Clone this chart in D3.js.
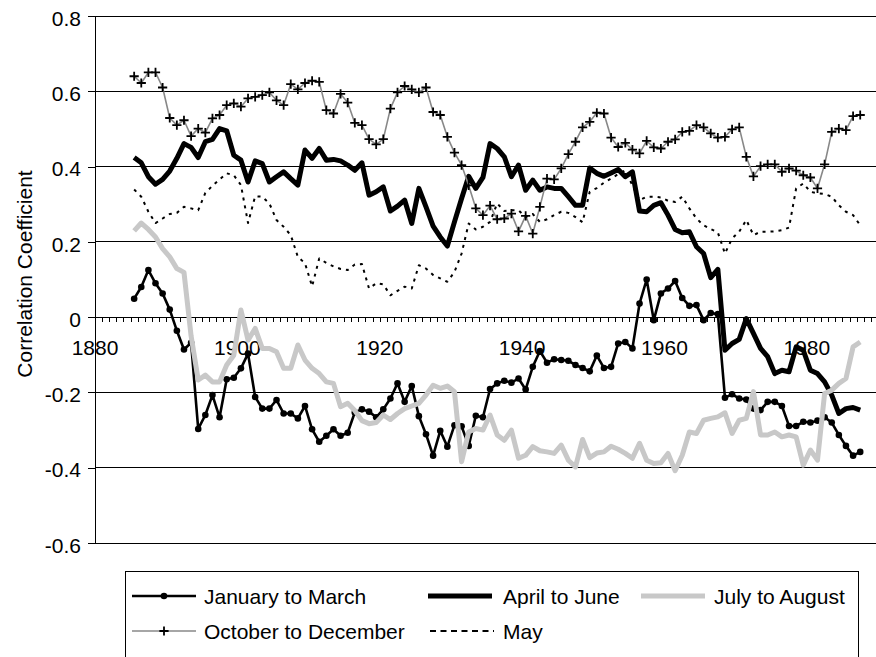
<!DOCTYPE html>
<html>
<head>
<meta charset="utf-8">
<script src="https://cdn.jsdelivr.net/npm/d3@7/dist/d3.min.js"></script>
<style>
  html, body { margin: 0; padding: 0; background: #fff; }
  svg { display: block; font-family: "Liberation Sans", Arial, sans-serif; }
</style>
</head>
<body>
<svg id="chart" width="876" height="657"></svg>
<script>
// Running correlation coefficients, centred on half years 1885.5 ... 1987.5
const years = d3.range(1885.5, 1988, 1);

const janMar = [
  0.049, 0.080, 0.125, 0.090, 0.063, 0.020, -0.036, -0.086, -0.068, -0.297,
  -0.260, -0.207, -0.266, -0.165, -0.161, -0.136, -0.097, -0.212, -0.243, -0.243,
  -0.220, -0.256, -0.256, -0.269, -0.236, -0.298, -0.331, -0.315, -0.298, -0.315,
  -0.307, -0.253, -0.245, -0.251, -0.266, -0.245, -0.216, -0.176, -0.225, -0.183,
  -0.263, -0.311, -0.368, -0.302, -0.344, -0.287, -0.290, -0.342, -0.262, -0.266,
  -0.191, -0.176, -0.169, -0.174, -0.163, -0.192, -0.132, -0.090, -0.121, -0.112,
  -0.114, -0.116, -0.127, -0.135, -0.144, -0.102, -0.135, -0.132, -0.070, -0.066,
  -0.083, 0.036, 0.100, -0.008, 0.063, 0.076, 0.096, 0.051, 0.030, 0.032,
  -0.008, 0.011, 0.008, -0.214, -0.205, -0.216, -0.219, -0.243, -0.247, -0.225,
  -0.225, -0.236, -0.289, -0.289, -0.278, -0.280, -0.275, -0.266, -0.280, -0.313,
  -0.342, -0.368, -0.358
];

const aprJun = [
  0.424, 0.410, 0.373, 0.353, 0.366, 0.388, 0.422, 0.461, 0.451, 0.424,
  0.466, 0.472, 0.501, 0.495, 0.430, 0.417, 0.359, 0.415, 0.408, 0.359,
  0.373, 0.386, 0.368, 0.351, 0.444, 0.422, 0.448, 0.417, 0.419, 0.415,
  0.404, 0.390, 0.410, 0.324, 0.333, 0.346, 0.282, 0.295, 0.311, 0.249,
  0.342, 0.293, 0.242, 0.213, 0.189, 0.253, 0.315, 0.374, 0.342, 0.371,
  0.461, 0.448, 0.426, 0.373, 0.404, 0.337, 0.364, 0.337, 0.346, 0.342,
  0.342, 0.320, 0.297, 0.297, 0.396, 0.382, 0.374, 0.383, 0.392, 0.373,
  0.386, 0.282, 0.280, 0.297, 0.304, 0.271, 0.233, 0.224, 0.227, 0.187,
  0.169, 0.105, 0.127, -0.088, -0.070, -0.059, -0.004, -0.043, -0.083, -0.105,
  -0.150, -0.141, -0.145, -0.079, -0.088, -0.141, -0.150, -0.172, -0.207, -0.256,
  -0.243, -0.240, -0.247
];

const julAug = [
  0.229, 0.250, 0.233, 0.213, 0.182, 0.160, 0.129, 0.119, -0.050, -0.167,
  -0.154, -0.172, -0.172, -0.127, -0.101, 0.019, -0.061, -0.030, -0.083, -0.083,
  -0.092, -0.136, -0.136, -0.074, -0.114, -0.136, -0.150, -0.172, -0.176, -0.238,
  -0.229, -0.248, -0.275, -0.283, -0.280, -0.260, -0.272, -0.256, -0.243, -0.236,
  -0.229, -0.207, -0.181, -0.189, -0.183, -0.198, -0.384, -0.305, -0.296, -0.300,
  -0.260, -0.313, -0.327, -0.300, -0.375, -0.367, -0.344, -0.355, -0.358, -0.362,
  -0.340, -0.380, -0.398, -0.325, -0.373, -0.361, -0.358, -0.343, -0.351, -0.362,
  -0.375, -0.335, -0.380, -0.389, -0.387, -0.362, -0.408, -0.367, -0.305, -0.309,
  -0.274, -0.269, -0.265, -0.254, -0.309, -0.274, -0.269, -0.198, -0.313, -0.313,
  -0.305, -0.318, -0.313, -0.318, -0.393, -0.353, -0.380, -0.203, -0.194, -0.176,
  -0.163, -0.079, -0.066
];

const octDec = [
  0.640, 0.622, 0.650, 0.650, 0.610, 0.529, 0.510, 0.523, 0.481, 0.501,
  0.490, 0.528, 0.537, 0.563, 0.568, 0.559, 0.581, 0.585, 0.590, 0.597,
  0.576, 0.563, 0.619, 0.605, 0.622, 0.628, 0.625, 0.550, 0.541, 0.593,
  0.570, 0.516, 0.510, 0.473, 0.459, 0.473, 0.554, 0.597, 0.614, 0.605,
  0.597, 0.610, 0.545, 0.537, 0.479, 0.437, 0.404, 0.350, 0.289, 0.271,
  0.296, 0.260, 0.262, 0.275, 0.228, 0.269, 0.222, 0.293, 0.368, 0.366,
  0.395, 0.433, 0.466, 0.504, 0.519, 0.543, 0.541, 0.477, 0.452, 0.463,
  0.445, 0.435, 0.468, 0.451, 0.448, 0.466, 0.472, 0.492, 0.495, 0.510,
  0.504, 0.488, 0.477, 0.479, 0.499, 0.504, 0.426, 0.374, 0.401, 0.406,
  0.406, 0.386, 0.395, 0.389, 0.377, 0.371, 0.342, 0.406, 0.492, 0.501,
  0.497, 0.534, 0.537
];

const may = [
  0.339, 0.320, 0.280, 0.250, 0.262, 0.274, 0.277, 0.293, 0.289, 0.284,
  0.330, 0.349, 0.366, 0.382, 0.377, 0.351, 0.250, 0.321, 0.320, 0.302,
  0.258, 0.240, 0.218, 0.160, 0.143, 0.082, 0.156, 0.144, 0.135, 0.128,
  0.125, 0.140, 0.141, 0.076, 0.090, 0.087, 0.058, 0.070, 0.081, 0.076,
  0.138, 0.129, 0.112, 0.103, 0.094, 0.120, 0.169, 0.249, 0.233, 0.240,
  0.253, 0.302, 0.282, 0.284, 0.284, 0.266, 0.274, 0.253, 0.260, 0.271,
  0.280, 0.277, 0.266, 0.252, 0.333, 0.343, 0.357, 0.368, 0.380, 0.390,
  0.350, 0.311, 0.320, 0.320, 0.318, 0.309, 0.306, 0.320, 0.289, 0.262,
  0.244, 0.234, 0.225, 0.169, 0.209, 0.227, 0.258, 0.218, 0.227, 0.227,
  0.228, 0.231, 0.238, 0.342, 0.355, 0.333, 0.329, 0.327, 0.320, 0.297,
  0.280, 0.271, 0.244
];

const seriesNames = ["January to March", "April to June", "July to August",
                     "October to December", "May"];
const yTicks = [-0.6, -0.4, -0.2, 0, 0.2, 0.4, 0.6, 0.8];
const xLabelYears = [1880, 1900, 1920, 1940, 1960, 1980];
const yTitle = "Correlation Coefficient";

// ---- layout -------------------------------------------------------------
const svg = d3.select("#chart");
const plotLeft = 95, plotRight = 878, plotTop = 16, plotBottom = 543;

const x = d3.scaleLinear().domain([1880, 1990]).range([plotLeft, plotRight]);
const y = d3.scaleLinear().domain([-0.6, 0.8]).range([plotBottom, plotTop]);

const FONT = 21;

// horizontal gridlines (the zero line is the category axis)
svg.append("g")
  .selectAll("line")
  .data(yTicks.filter(d => d !== 0))
  .join("line")
  .attr("x1", plotLeft).attr("x2", plotRight)
  .attr("y1", d => y(d)).attr("y2", d => y(d))
  .attr("stroke", "#000").attr("stroke-width", 1)
  .attr("shape-rendering", "crispEdges");

// value axis on the left
const yAxis = svg.append("g")
  .attr("transform", `translate(${plotLeft},0)`)
  .call(d3.axisLeft(y).tickValues(yTicks).tickSize(7).tickPadding(7)
        .tickFormat(d => d === 0 ? "0" : d.toFixed(1)));
yAxis.select(".domain").attr("stroke", "#000").attr("shape-rendering", "crispEdges");
yAxis.selectAll(".tick line").attr("stroke", "#000").attr("shape-rendering", "crispEdges");
yAxis.selectAll("text").attr("font-size", FONT).attr("fill", "#000").attr("dy", "0.44em")
  .attr("font-family", "Liberation Sans, Arial, sans-serif");

// category axis through zero, one minor tick per year
const xAxis = svg.append("g")
  .attr("transform", `translate(0,${y(0)})`)
  .call(d3.axisBottom(x).tickValues(d3.range(1880, 1991, 1)).tickSize(5)
        .tickSizeOuter(0).tickFormat(""));
xAxis.select(".domain").attr("stroke", "#000").attr("shape-rendering", "crispEdges");
xAxis.selectAll(".tick line").attr("stroke", "#000").attr("shape-rendering", "crispEdges");

svg.append("g")
  .selectAll("text")
  .data(xLabelYears)
  .join("text")
  .attr("x", d => x(d))
  .attr("y", y(0) + 38)
  .attr("text-anchor", "middle")
  .attr("font-size", FONT)
  .attr("fill", "#000")
  .text(d => d);

// axis title
svg.append("text")
  .attr("transform", "translate(32,274) rotate(-90)")
  .attr("text-anchor", "middle")
  .attr("font-size", FONT)
  .attr("fill", "#000")
  .text(yTitle);

// ---- series -------------------------------------------------------------
const line = d3.line().x((d, i) => x(years[i])).y(d => y(d));

const styles = {
  janMar: { stroke: "#000", width: 2.6 },
  aprJun: { stroke: "#000", width: 5 },
  julAug: { stroke: "#c8c8c8", width: 5 },
  octDec: { stroke: "#888", width: 1.6 },
  may:    { stroke: "#000", width: 2, dash: "3,5", legendDash: "6,4.5" }
};

const plot = svg.append("g");

function drawLine(values, st) {
  plot.append("path")
    .datum(values)
    .attr("d", line)
    .attr("fill", "none")
    .attr("stroke", st.stroke)
    .attr("stroke-width", st.width)
    .attr("stroke-linejoin", "round")
    .attr("stroke-dasharray", st.dash || null);
}

drawLine(janMar, styles.janMar);
plot.append("g").selectAll("circle")
  .data(janMar)
  .join("circle")
  .attr("cx", (d, i) => x(years[i]))
  .attr("cy", d => y(d))
  .attr("r", 3.3)
  .attr("fill", "#000");

drawLine(aprJun, styles.aprJun);
drawLine(julAug, styles.julAug);

drawLine(octDec, styles.octDec);
const plus = (cx, cy, s) => `M${cx - s},${cy}H${cx + s}M${cx},${cy - s}V${cy + s}`;
plot.append("g").selectAll("path")
  .data(octDec)
  .join("path")
  .attr("d", (d, i) => plus(x(years[i]), y(d), 4.6))
  .attr("stroke", "#000")
  .attr("stroke-width", 1.8)
  .attr("fill", "none");

drawLine(may, styles.may);

// ---- legend -------------------------------------------------------------
const lg = svg.append("g");
lg.append("rect")
  .attr("x", 125.5).attr("y", 571.5)
  .attr("width", 733).attr("height", 120)
  .attr("fill", "#fff").attr("stroke", "#000").attr("stroke-width", 1);

const legendItems = [
  { name: seriesNames[0], key: "janMar", sx: 132, tx: 204, row: 0, marker: "dot" },
  { name: seriesNames[1], key: "aprJun", sx: 428, tx: 503, row: 0 },
  { name: seriesNames[2], key: "julAug", sx: 641, tx: 714, row: 0 },
  { name: seriesNames[3], key: "octDec", sx: 132, tx: 204, row: 1, marker: "plus" },
  { name: seriesNames[4], key: "may",    sx: 430, tx: 503, row: 1 }
];
const rowY = [596, 631];
const sampleLen = 64;

legendItems.forEach(it => {
  const st = styles[it.key];
  const cy = rowY[it.row];
  lg.append("line")
    .attr("x1", it.sx).attr("x2", it.sx + sampleLen)
    .attr("y1", cy).attr("y2", cy)
    .attr("stroke", st.stroke)
    .attr("stroke-width", st.width)
    .attr("stroke-dasharray", st.legendDash || st.dash || null);
  if (it.marker === "dot") {
    lg.append("circle").attr("cx", it.sx + sampleLen / 2).attr("cy", cy)
      .attr("r", 3.3).attr("fill", "#000");
  } else if (it.marker === "plus") {
    lg.append("path").attr("d", plus(it.sx + sampleLen / 2, cy, 4.6))
      .attr("stroke", "#000").attr("stroke-width", 1.8);
  }
  lg.append("text")
    .attr("x", it.tx).attr("y", cy + 8)
    .attr("font-size", FONT)
    .attr("fill", "#000")
    .text(it.name);
});
</script>
</body>
</html>
